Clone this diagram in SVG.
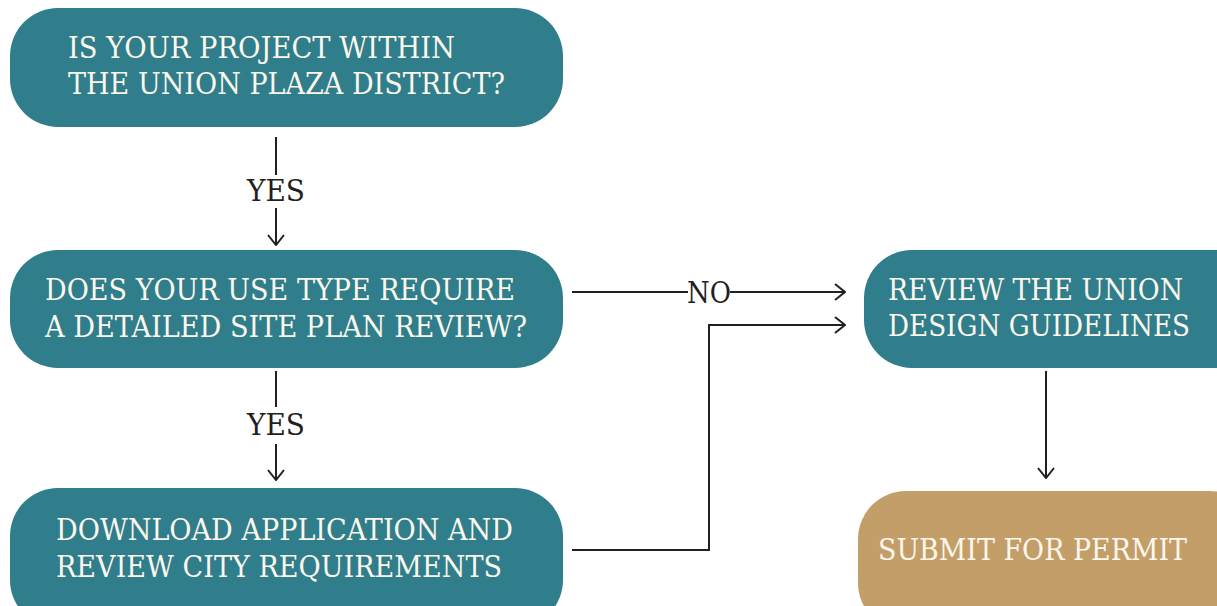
<svg xmlns="http://www.w3.org/2000/svg" width="1217" height="606" viewBox="0 0 1217 606">
<defs>
<style>
.teal{fill:#307d8b}
.gold{fill:#c49e68}
.t{font-family:"DejaVu Serif","Liberation Serif",serif;font-size:30px;fill:#fbf7ec;font-weight:normal}
.lbl{font-family:"DejaVu Serif","Liberation Serif",serif;font-size:30px;fill:#231f20;text-anchor:middle}
.c{fill:none;stroke:#231f20;stroke-width:2}
</style>
<marker id="ah" viewBox="0 0 12 18" refX="11" refY="9" markerWidth="12" markerHeight="18" markerUnits="userSpaceOnUse" orient="auto">
<path d="M1,1 L11,9 L1,17" fill="none" stroke="#231f20" stroke-width="2"/>
</marker>
</defs>
<rect width="1217" height="606" fill="#ffffff"/>
<g id="connectors">
<line class="c" x1="276" y1="137" x2="276" y2="175"/>
<text class="lbl" x="276" y="201" textLength="58" lengthAdjust="spacingAndGlyphs">YES</text>
<line class="c" x1="276" y1="208" x2="276" y2="245" marker-end="url(#ah)"/>
<line class="c" x1="276" y1="371" x2="276" y2="407"/>
<text class="lbl" x="276" y="435" textLength="58" lengthAdjust="spacingAndGlyphs">YES</text>
<line class="c" x1="276" y1="444" x2="276" y2="480" marker-end="url(#ah)"/>
<line class="c" x1="572" y1="292" x2="688" y2="292"/>
<text class="lbl" x="709" y="303" textLength="44" lengthAdjust="spacingAndGlyphs">NO</text>
<line class="c" x1="730" y1="292" x2="845" y2="292" marker-end="url(#ah)"/>
<polyline class="c" points="572,550 709,550 709,325 845,325" marker-end="url(#ah)"/>
<line class="c" x1="1046" y1="371" x2="1046" y2="478" marker-end="url(#ah)"/>
</g>
<g id="n1">
<rect class="teal" x="10" y="8" width="553" height="119" rx="48"/>
<text class="t" x="68" y="58" textLength="387" lengthAdjust="spacingAndGlyphs">IS YOUR PROJECT WITHIN</text>
<text class="t" x="68" y="94" textLength="437" lengthAdjust="spacingAndGlyphs">THE UNION PLAZA DISTRICT?</text>
</g>
<g id="n2">
<rect class="teal" x="10" y="250" width="553" height="118" rx="48"/>
<text class="t" x="45" y="300" textLength="470" lengthAdjust="spacingAndGlyphs">DOES YOUR USE TYPE REQUIRE</text>
<text class="t" x="45" y="337" textLength="482" lengthAdjust="spacingAndGlyphs">A DETAILED SITE PLAN REVIEW?</text>
</g>
<g id="n3">
<rect class="teal" x="10" y="488" width="553" height="140" rx="48"/>
<text class="t" x="56" y="540" textLength="457" lengthAdjust="spacingAndGlyphs">DOWNLOAD APPLICATION AND</text>
<text class="t" x="56" y="577" textLength="446" lengthAdjust="spacingAndGlyphs">REVIEW CITY REQUIREMENTS</text>
</g>
<g id="n4">
<rect class="teal" x="864" y="250" width="400" height="118" rx="48"/>
<text class="t" x="888" y="300" textLength="295" lengthAdjust="spacingAndGlyphs">REVIEW THE UNION</text>
<text class="t" x="888" y="336" textLength="302" lengthAdjust="spacingAndGlyphs">DESIGN GUIDELINES</text>
</g>
<g id="n5">
<rect class="gold" x="858" y="491" width="400" height="140" rx="48"/>
<text class="t" x="878" y="560" textLength="309" lengthAdjust="spacingAndGlyphs">SUBMIT FOR PERMIT</text>
</g>
</svg>
